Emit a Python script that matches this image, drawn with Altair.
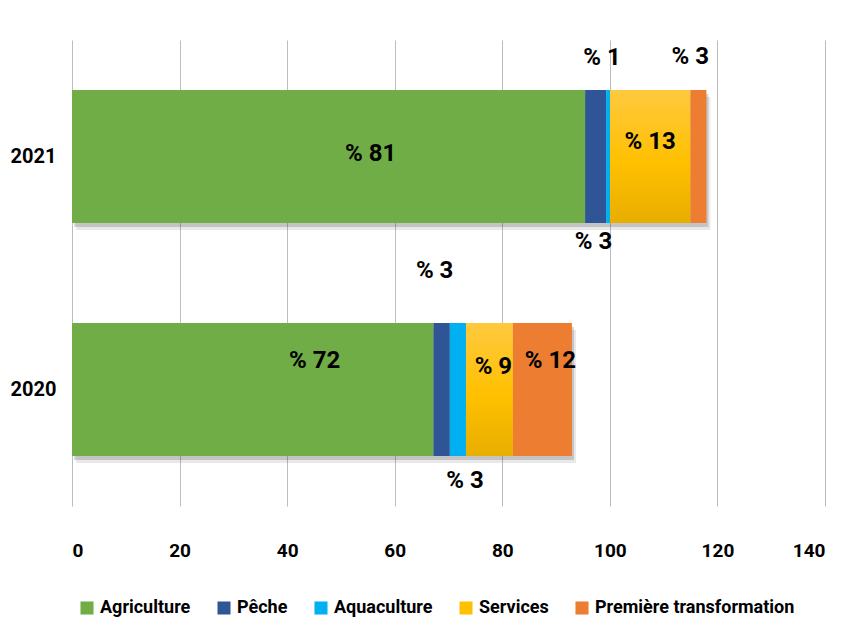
import altair as alt
import pandas as pd

# ---- data ----
years = ["2021", "2020"]
categories = ["Agriculture", "Pêche", "Aquaculture", "Services", "Première transformation"]
colors = ["#70AD47", "#2F5597", "#00B0F0", "#FFC000", "#ED7D31"]

agriculture = [95.4, 67.2]
peche = [3.9, 3.05]
aquaculture = [0.75, 3.0]
services = [14.9, 8.7]
premiere = [3.0, 11.0]

labels_2021 = ["% 81", "% 3", "% 1", "% 13", "% 3"]
labels_2020 = ["% 72", "% 3", "% 3", "% 9", "% 12"]

# label placement (pixel offsets from segment centre)
offsets_2021 = [(42, -3), (-2, 85), (-6, -99), (0, -15), (-8, -100)]
offsets_2020 = [(62, -29), (-7, -119), (7, 91), (4, -23), (8, -29)]

series = [agriculture, peche, aquaculture, services, premiere]
labels = {"2021": labels_2021, "2020": labels_2020}
offsets = {"2021": offsets_2021, "2020": offsets_2020}

rows = []
for yi, yr in enumerate(years):
    for ci, cat in enumerate(categories):
        rows.append({"year": yr, "category": cat, "value": series[ci][yi],
                     "order": ci, "label": labels[yr][ci]})
df = pd.DataFrame(rows)

FONT = "Roboto, Liberation Sans, sans-serif"

xscale = alt.Scale(domain=[0, 140], nice=False, zero=True)
yscale = alt.Scale(domain=years, paddingInner=0.43, paddingOuter=0.215)

base = alt.Chart(df).transform_stack(
    stack="value", groupby=["year"], as_=["x0", "x1"],
    sort=[alt.SortField("order", order="ascending")]
)

xaxis = alt.Axis(values=list(range(0, 141, 20)), grid=True, gridColor="#BDBDBD",
                 gridWidth=1, domain=False, ticks=False, labelPadding=35,
                 labelFont=FONT, labelFontSize=19, labelFontWeight="bold",
                 labelColor="#000000", title=None)
yaxis = alt.Axis(domain=False, ticks=False, labelPadding=16, labelFont=FONT,
                 labelFontSize=20, labelFontWeight="bold", labelColor="#000000",
                 title=None, grid=False)

shadow_base = alt.Chart(df).transform_aggregate(total="sum(value)", groupby=["year"])
shadow1 = shadow_base.mark_bar(color="#444444", opacity=0.12, xOffset=4, yOffset=7).encode(
    x=alt.X("total:Q", scale=xscale, axis=xaxis),
    y=alt.Y("year:N", scale=yscale, sort=years, axis=yaxis),
)
shadow2 = shadow_base.mark_bar(color="#444444", opacity=0.22, xOffset=2, yOffset=4).encode(
    x=alt.X("total:Q", scale=xscale, axis=xaxis),
    y=alt.Y("year:N", scale=yscale, sort=years, axis=yaxis),
)

bars = base.mark_bar().encode(
    x=alt.X("x0:Q", scale=xscale, axis=xaxis),
    x2="x1:Q",
    y=alt.Y("year:N", scale=yscale, sort=years, axis=yaxis),
    color=alt.Color(
        "category:N",
        scale=alt.Scale(domain=categories, range=colors),
        legend=alt.Legend(
            orient="none", legendX=6, legendY=559, direction="horizontal",
            title=None, symbolType="square", symbolSize=170,
            symbolStrokeWidth=0, symbolOpacity=1, labelFont=FONT, labelFontSize=18,
            labelFontWeight="bold", labelColor="#000000", columnPadding=24,
            labelOffset=4, labelLimit=400,
        ),
    ),
)

gold = alt.Gradient(
    gradient="linear",
    stops=[alt.GradientStop(color="#FFC93F", offset=0),
           alt.GradientStop(color="#FFC000", offset=0.55),
           alt.GradientStop(color="#E8AE00", offset=1)],
    x1=0, x2=0, y1=0, y2=1,
)
services_layer = base.transform_filter(alt.datum.category == "Services").mark_bar(fill=gold).encode(
    x=alt.X("x0:Q", scale=xscale, axis=xaxis),
    x2="x1:Q",
    y=alt.Y("year:N", scale=yscale, sort=years, axis=yaxis),
)

text_layers = []
for yr in years:
    for ci, cat in enumerate(categories):
        dx, dy = offsets[yr][ci]
        t = base.transform_filter(
            (alt.datum.year == yr) & (alt.datum.category == cat)
        ).transform_calculate(mid="(datum.x0 + datum.x1) / 2").mark_text(
            dx=dx, dy=dy, font=FONT, fontSize=24, fontWeight="bold",
            color="#000000", baseline="middle", align="center",
        ).encode(
            x=alt.X("mid:Q", scale=xscale, axis=xaxis),
            y=alt.Y("year:N", scale=yscale, sort=years, axis=yaxis),
            text="label:N",
        )
        text_layers.append(t)

chart = alt.layer(shadow1, shadow2, bars, services_layer, *text_layers).properties(
    width=753, height=466,
    autosize=alt.AutoSizeParams(type="none"),
    padding={"left": 64, "top": 32, "right": 9, "bottom": 114},
    background="#FFFFFF",
).configure_view(stroke=None)

chart.save("out.html", embed_options={"renderer": "svg", "actions": False})
